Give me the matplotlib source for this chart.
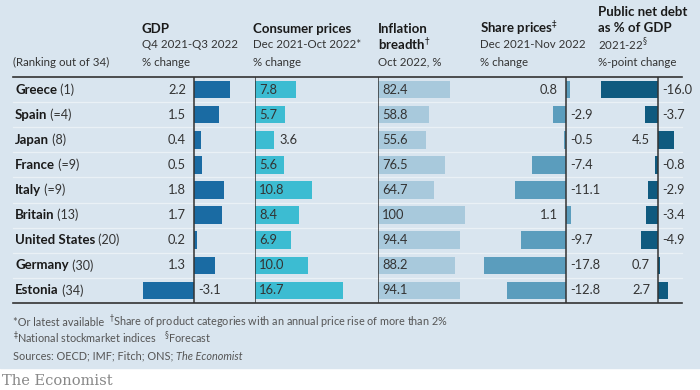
import matplotlib.pyplot as plt
import numpy as np

countries = ['Greece', 'Spain', 'Japan', 'France', 'Italy', 'Britain',
             'United States', 'Germany', 'Estonia']
ranks = ['(1)', '(=4)', '(8)', '(=9)', '(=9)', '(13)', '(20)', '(30)', '(34)']
gdp = [2.2, 1.5, 0.4, 0.5, 1.8, 1.7, 0.2, 1.3, -3.1]
cpi = [7.8, 5.7, 3.6, 5.6, 10.8, 8.4, 6.9, 10.0, 16.7]
breadth = [82.4, 58.8, 55.6, 76.5, 64.7, 100, 94.4, 88.2, 94.1]
shares = [0.8, -2.9, -0.5, -7.4, -11.1, 1.1, -9.7, -17.8, -12.8]
debt = [-16.0, -3.7, 4.5, -0.8, -2.9, -3.4, -4.9, 0.7, 2.7]

W, H = 700, 390
bg = '#d9e5ef'
txt = '#1a1a1a'
plt.rcParams['font.family'] = ['Lato', 'DejaVu Sans']

fig = plt.figure(figsize=(7, 3.9), dpi=100)
fig.patch.set_facecolor('white')

# background axes in pixel coordinates
base = fig.add_axes([0, 0, 1, 1])
base.set_xlim(0, W)
base.set_ylim(H, 0)
base.axis('off')
base.add_patch(plt.Rectangle((0, 0), W, 368, color=bg, zorder=0))

top, bot = 77, 303
n = len(countries)
rowh = (bot - top) / n

# row separators
for i in range(1, n):
    y = top + i * rowh
    base.plot([13, 682], [y, y], color='#eaf1f6', lw=0.9, zorder=1)
base.plot([13, 682], [top, top], color='#333333', lw=1.2, zorder=3)
base.plot([13, 682], [bot, bot], color='#333333', lw=1.2, zorder=3)

# country names
for i, (c, r) in enumerate(zip(countries, ranks)):
    y = top + (i + 0.5) * rowh
    t = base.text(15, y, c, fontsize=9.5, fontweight='bold', color=txt,
                  va='center', ha='left')
    base.annotate(' ' + r, xy=(1, 0.5), xycoords=t, va='center', ha='left',
                  fontsize=9, color='#333333')

# headers
hs = 9.5
ss = 8.3
base.text(13, 62, '(Ranking out of 34)', fontsize=ss, color='#333333', va='center')
headers = [
    (142, [('GDP', True), ('Q4 2021-Q3 2022', False), ('% change', False)]),
    (253, [('Consumer prices', True), ('Dec 2021-Oct 2022*', False), ('% change', False)]),
    (378, [('Inflation', True), ('breadth$^{\\dagger}$', True), ('Oct 2022, %', False)]),
    (480, [('Share prices$^{\\ddagger}$', True), ('Dec 2021-Nov 2022', False), ('% change', False)]),
    (598, [('Public net debt', True), ('as % of GDP', True), ('2021-22$^{\\S}$', False),
           ('%-point change', False)]),
]
for x, lines in headers:
    ys = [29, 45, 62] if len(lines) == 3 else [12, 28, 45, 62]
    for (s, b), y in zip(lines, ys):
        base.text(x, y, s, fontsize=hs if b else ss, fontweight='bold' if b else 'normal',
                  color=txt if b else '#333333', va='center', ha='left')

# footnotes
fs = 7.8
fc = '#555555'
base.text(13, 322, '*Or latest available', fontsize=fs, color=fc, va='center')
base.text(109, 322, '$^{\\dagger}$Share of product categories with an annual price rise of more than 2%',
          fontsize=fs, color=fc, va='center')
base.text(13, 338, '$^{\\ddagger}$National stockmarket indices', fontsize=fs, color=fc, va='center')
base.text(164, 338, '$^{\\S}$Forecast', fontsize=fs, color=fc, va='center')
t = base.text(13, 356, 'Sources: OECD; IMF; Fitch; ONS; ', fontsize=fs, color=fc, va='center')
base.annotate('The Economist', xy=(1, 0.5), xycoords=t, fontsize=fs, color=fc,
              va='center', ha='left', style='italic')
base.text(2, 381, 'The Economist', fontsize=10.5, family='DejaVu Serif', color='#888888',
          va='center')

# column axes: (values, zero px, px per unit, left px, right px, colour, label mode)
cols = [
    (gdp, 194, 16.4, 125, 255, '#1a6ba3', 'outside'),
    (cpi, 255, 5.25, 255, 378, '#3cbcd2', 'inside'),
    (breadth, 378, 0.872, 378, 480, '#a8c9dc', 'inside'),
    (shares, 566, 4.6, 470, 600, '#5b9dbd', 'outside'),
    (debt, 658, 3.55, 595, 690, '#0f5a7f', 'outside'),
]
vs = 9.3
for vals, x0, k, l, r, col, mode in cols:
    ax = fig.add_axes([l / W, 1 - bot / H, (r - l) / W, (bot - top) / H])
    ax.set_xlim((l - x0) / k, (r - x0) / k)
    ax.set_ylim(n - 0.5, -0.5)
    ax.axis('off')
    ypos = np.arange(n)
    ax.barh(ypos, vals, height=0.7, color=col, zorder=2)
    ax.axvline(0, color='#333333', lw=1.1, zorder=3)
    off = 4 / k
    for i, v in enumerate(vals):
        s = '%.1f' % v if v != 100 else '100'
        if mode == 'inside':
            if v * k > 22:
                ax.text(off, i, s, va='center', ha='left', fontsize=vs, color='#333333', zorder=4)
            else:
                ax.text(v + off * 1.5, i, s, va='center', ha='left', fontsize=vs, color='#333333', zorder=4)
        else:
            if v >= 0:
                ax.text(-off * 2, i, s, va='center', ha='right', fontsize=vs, color='#333333', zorder=4)
            else:
                ax.text(off, i, s, va='center', ha='left', fontsize=vs, color='#333333', zorder=4)

fig.savefig('out.png', dpi=100, facecolor='white')
